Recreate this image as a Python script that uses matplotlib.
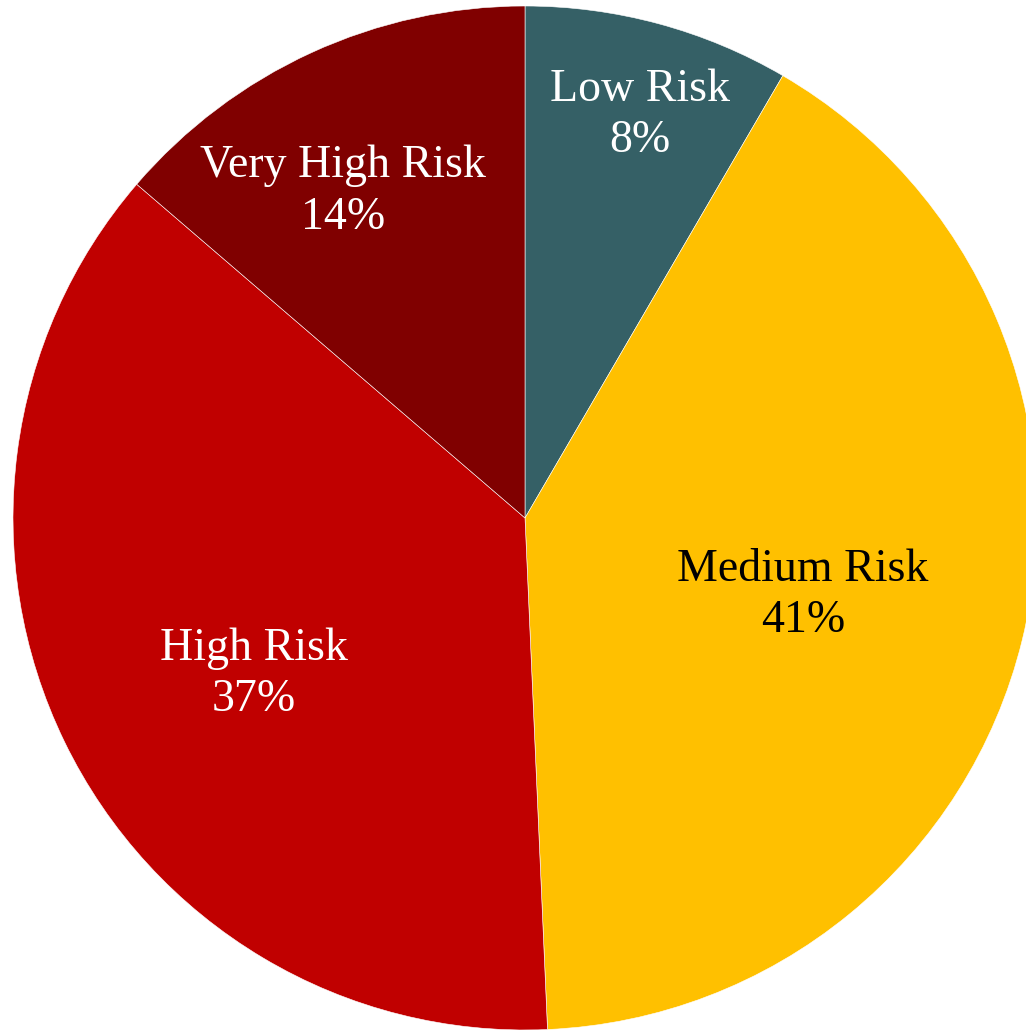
import matplotlib.pyplot as plt

categories = ['Low Risk', 'Medium Risk', 'High Risk', 'Very High Risk']
shares = [8.4, 40.9, 37.0, 13.7]
colors = ['#356066', '#FFC000', '#C00000', '#800000']
text_colors = ['white', 'black', 'white', 'white']

# label centres in pie units (radius = 1)
label_xy = [(0.225, 0.787), (0.543, -0.151), (-0.529, -0.305), (-0.355, 0.637)]

fig = plt.figure(figsize=(10.26, 10.32), dpi=100)
ax = fig.add_axes([0, 0, 1, 1])

wedges, _ = ax.pie(shares, colors=colors, startangle=90, counterclock=False,
                   radius=1, wedgeprops=dict(edgecolor='white', linewidth=0.4))

for name, val, (x, y), tc in zip(categories, shares, label_xy, text_colors):
    ax.text(x, y, f"{name}\n{round(val)}%", ha='center', va='center',
            multialignment='center', color=tc, fontsize=33,
            family='Liberation Serif', linespacing=1.27)

# centre at (525, 518) px, radius 512 px
ax.set_xlim(-525 / 512, (1026 - 525) / 512)
ax.set_ylim(-(1032 - 518) / 512, 518 / 512)
ax.set_aspect('auto')
ax.axis('off')

fig.savefig('out.png', dpi=100)
